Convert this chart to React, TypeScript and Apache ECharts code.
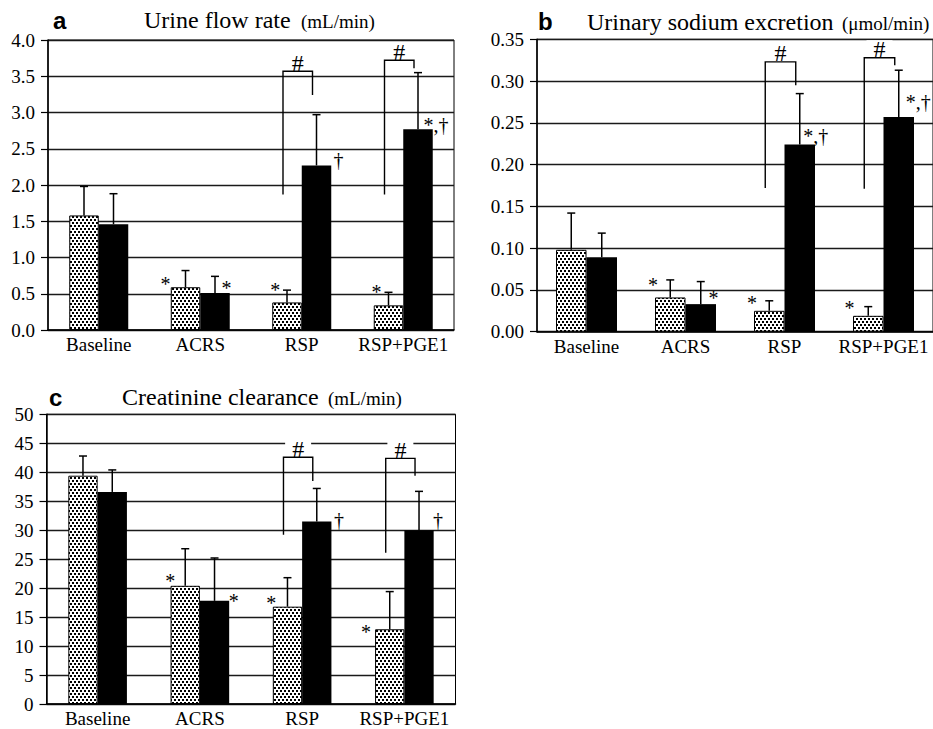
import React, { useEffect, useRef } from "react";
import * as echarts from "echarts";

// ---------- data ----------
const categories = ["Baseline", "ACRS", "RSP", "RSP+PGE1"];

// a: Urine flow rate (mL/min)
const urineDotted = [1.58, 0.59, 0.38, 0.34];
const urineDottedSD = [0.4, 0.23, 0.17, 0.18];
const urineBlack = [1.46, 0.51, 2.27, 2.77];
const urineBlackSD = [0.42, 0.23, 0.7, 0.78];
const urineDottedMarks = ["", "*", "*", "*"];
const urineBlackMarks = ["", "*", "†", "*,†"];
// [category index, left leg low, bracket top, right leg low]
const urineBrackets = [
  [2, 1.87, 3.57, 3.24],
  [3, 1.87, 3.72, 3.61],
];
const urineAxis = { min: 0, max: 4, interval: 0.5, decimals: 1 };

// b: Urinary sodium excretion (µmol/min)
const sodiumDotted = [0.098, 0.041, 0.025, 0.019];
const sodiumDottedSD = [0.044, 0.021, 0.012, 0.011];
const sodiumBlack = [0.089, 0.033, 0.224, 0.257];
const sodiumBlackSD = [0.029, 0.027, 0.061, 0.056];
const sodiumDottedMarks = ["", "*", "*", "*"];
const sodiumBlackMarks = ["", "*", "*,†", "*,†"];
const sodiumBrackets = [
  [2, 0.172, 0.323, 0.295],
  [3, 0.171, 0.328, 0.319],
];
const sodiumAxis = { min: 0, max: 0.35, interval: 0.05, decimals: 2 };

// c: Creatinine clearance (mL/min)
const creatDotted = [39.4, 20.4, 16.8, 12.9];
const creatDottedSD = [3.4, 6.4, 5.0, 6.5];
const creatBlack = [36.6, 17.8, 31.5, 30.0];
const creatBlackSD = [3.8, 7.4, 5.7, 6.7];
const creatDottedMarks = ["", "*", "*", "*"];
const creatBlackMarks = ["", "*", "†", "†"];
const creatBrackets = [
  [2, 29.2, 42.6, 38.5],
  [3, 26.1, 42.4, 39.4],
];
const creatAxis = { min: 0, max: 50, interval: 5, decimals: 0 };

// ---------- layout / style ----------
const SERIF = "Liberation Serif, serif";
const SANS = "Liberation Sans, sans-serif";

const gridBoxes = [
  { left: 48, top: 40, width: 406, height: 290 },
  { left: 537, top: 39.3, width: 408, height: 292.4 },
  { left: 46.5, top: 414.3, width: 409, height: 289.7 },
];
const barWidths = [29.5, 30.5, 29.3];
// offsets of annotation glyph centres relative to bar top corner (dotted: top-left, black: top-right)
const markOffsets = [
  {
    dotted: [[0, 0], [-5.3, -5.5], [3, -15.2], [2.7, -15.4]],
    black: [[0, 0], [-3.3, -8], [7.3, -5.4], [-4.3, -6.5]],
  },
  {
    dotted: [[0, 0], [-2, -14.7], [-2, -10.8], [-3.4, -10.8]],
    black: [[0, 0], [-2.4, -9.1], [-6.7, -11.3], [-3.3, -17]],
  },
  {
    dotted: [[0, 0], [-0.3, -7.6], [-1.6, -6], [-9, 0.7]],
    black: [[0, 0], [4.6, -2.6], [7.6, -1.6], [4.4, -10.3]],
  },
];
const LEG_SHIFT = -4;

function makeDots(): HTMLCanvasElement {
  const c = document.createElement("canvas");
  c.width = 8;
  c.height = 6;
  const ctx = c.getContext("2d")!;
  ctx.fillStyle = "#ffffff";
  ctx.fillRect(0, 0, 8, 6);
  ctx.fillStyle = "#000000";
  ctx.fillRect(0, 0, 2, 2);
  ctx.fillRect(4, 0, 2, 2);
  ctx.fillRect(2, 3, 2, 2);
  ctx.fillRect(6, 3, 2, 2);
  return c;
}

export default function App() {
  const ref = useRef<HTMLDivElement>(null);

  useEffect(() => {
    if (!ref.current) return;
    document.body.style.margin = "0";
    const chart = echarts.init(ref.current, null, { renderer: "svg" });
    const dots = makeDots();

    const panels = [
      {
        dotted: urineDotted, dottedSD: urineDottedSD, black: urineBlack, blackSD: urineBlackSD,
        dMarks: urineDottedMarks, bMarks: urineBlackMarks, brackets: urineBrackets, axis: urineAxis,
      },
      {
        dotted: sodiumDotted, dottedSD: sodiumDottedSD, black: sodiumBlack, blackSD: sodiumBlackSD,
        dMarks: sodiumDottedMarks, bMarks: sodiumBlackMarks, brackets: sodiumBrackets, axis: sodiumAxis,
      },
      {
        dotted: creatDotted, dottedSD: creatDottedSD, black: creatBlack, blackSD: creatBlackSD,
        dMarks: creatDottedMarks, bMarks: creatBlackMarks, brackets: creatBrackets, axis: creatAxis,
      },
    ];

    const grid: any[] = [];
    const xAxis: any[] = [];
    const yAxis: any[] = [];
    const series: any[] = [];

    const labelStyle = { color: "#000", fontFamily: SERIF, fontSize: 19, fontWeight: "normal" };

    panels.forEach((p, pi) => {
      const bw = barWidths[pi];
      grid.push({ ...gridBoxes[pi], show: true, borderColor: "#000", borderWidth: 1, containLabel: false });
      xAxis.push({
        type: "category",
        gridIndex: pi,
        data: categories,
        axisTick: { show: false },
        axisLine: { lineStyle: { color: "#000", width: 1.5 } },
        axisLabel: { ...labelStyle, margin: 5, interval: 0 },
        splitLine: { show: false },
      });
      yAxis.push({
        type: "value",
        gridIndex: pi,
        min: p.axis.min,
        max: p.axis.max,
        interval: p.axis.interval,
        axisLine: { show: true, lineStyle: { color: "#000", width: 1.5 } },
        axisTick: { show: true, length: 7, lineStyle: { color: "#000", width: 1.2 } },
        axisLabel: {
          ...labelStyle,
          margin: 13,
          formatter: (v: number) => v.toFixed(p.axis.decimals),
        },
        splitLine: { show: true, lineStyle: { color: "#1a1a1a", width: 1.4 } },
      });

      series.push({
        type: "bar",
        xAxisIndex: pi,
        yAxisIndex: pi,
        data: p.dotted,
        barWidth: bw,
        barGap: "0%",
        itemStyle: { color: { image: dots, repeat: "repeat" }, borderColor: "#000", borderWidth: 1 },
        z: 2,
      });
      series.push({
        type: "bar",
        xAxisIndex: pi,
        yAxisIndex: pi,
        data: p.black,
        barWidth: bw,
        barGap: "0%",
        itemStyle: { color: "#000" },
        z: 2,
      });

      // error bars
      const errRows: number[][] = [];
      p.dotted.forEach((m, i) => errRows.push([i, m, p.dottedSD[i], -1]));
      p.black.forEach((m, i) => errRows.push([i, m, p.blackSD[i], 1]));
      series.push({
        type: "custom",
        xAxisIndex: pi,
        yAxisIndex: pi,
        data: errRows,
        z: 4,
        renderItem: (_params: any, api: any) => {
          const i = api.value(0);
          const m = api.value(1);
          const s = api.value(2);
          const side = api.value(3);
          const base = api.coord([i, m]);
          const top = api.coord([i, m + s]);
          const x = base[0] + (side * bw) / 2;
          const st = { stroke: "#000", lineWidth: 1.5 };
          return {
            type: "group",
            children: [
              { type: "line", shape: { x1: x, y1: base[1], x2: x, y2: top[1] }, style: st },
              { type: "line", shape: { x1: x - 4, y1: top[1], x2: x + 4, y2: top[1] }, style: st },
            ],
          };
        },
      });

      // significance marks
      const markRows: { i: number; v: number; side: number; text: string; dx: number; dy: number }[] = [];
      p.dMarks.forEach((t, i) => {
        if (t) markRows.push({ i, v: p.dotted[i], side: -1, text: t, dx: markOffsets[pi].dotted[i][0], dy: markOffsets[pi].dotted[i][1] });
      });
      p.bMarks.forEach((t, i) => {
        if (t) markRows.push({ i, v: p.black[i], side: 1, text: t, dx: markOffsets[pi].black[i][0], dy: markOffsets[pi].black[i][1] });
      });
      series.push({
        type: "custom",
        xAxisIndex: pi,
        yAxisIndex: pi,
        data: markRows.map((r) => [r.i, r.v]),
        z: 5,
        renderItem: (params: any, api: any) => {
          const r = markRows[params.dataIndex];
          const c = api.coord([api.value(0), api.value(1)]);
          const ax = c[0] + r.side * bw;
          const multi = r.text.length > 1;
          const star = r.text[0] === "*";
          return {
            type: "text",
            x: ax + r.dx - (multi ? 5 : 0),
            y: c[1] + r.dy + (star ? 2.5 : 0),
            style: {
              text: r.text,
              fontSize: 20,
              fontFamily: SERIF,
              fill: "#000",
              align: multi ? "left" : "center",
              verticalAlign: "middle",
            },
          };
        },
      });

      // brackets with '#'
      series.push({
        type: "custom",
        xAxisIndex: pi,
        yAxisIndex: pi,
        data: p.brackets,
        z: 5,
        renderItem: (_params: any, api: any) => {
          const i = api.value(0);
          const low = api.value(1);
          const top = api.value(2);
          const rlow = api.value(3);
          const ct = api.coord([i, top]);
          const xl = ct[0] - bw / 2 + LEG_SHIFT;
          const xr = ct[0] + bw / 2 + LEG_SHIFT;
          const yl = api.coord([i, low])[1];
          const yr = api.coord([i, rlow])[1];
          return {
            type: "group",
            children: [
              {
                type: "text",
                x: (xl + xr) / 2,
                y: ct[1] - 8.5,
                style: {
                  text: "#",
                  fontSize: 24,
                  fontFamily: SERIF,
                  fill: "#000",
                  align: "center",
                  verticalAlign: "middle",
                  backgroundColor: "#fff",
                  padding: [0, 7],
                  lineHeight: 18,
                },
              },
              {
                type: "polyline",
                shape: { points: [[xl, yl], [xl, ct[1]], [xr, ct[1]], [xr, yr]] },
                style: { stroke: "#000", lineWidth: 1.4, fill: "none" },
              },
            ],
          };
        },
      });
    });

    const titleText = (x: number, y: number, text: string, size: number, family: string, weight = "normal") => ({
      type: "text",
      x,
      y,
      style: { text, fontSize: size, fontFamily: family, fontWeight: weight, fill: "#000", align: "left", verticalAlign: "middle" },
    });

    chart.setOption({
      animation: false,
      backgroundColor: "#fff",
      textStyle: { fontFamily: SERIF, color: "#000" },
      grid,
      xAxis,
      yAxis,
      series,
      graphic: [
        titleText(53, 20, "a", 24, SANS, "bold"),
        titleText(144, 20, "Urine flow rate", 24, SERIF),
        titleText(301, 21.5, "(mL/min)", 19, SERIF),
        titleText(538, 21, "b", 24, SANS, "bold"),
        titleText(587, 22, "Urinary sodium excretion", 24, SERIF),
        titleText(842, 23.5, "(μmol/min)", 19, SERIF),
        titleText(49, 397, "c", 24, SANS, "bold"),
        titleText(122, 397, "Creatinine clearance", 24, SERIF),
        titleText(328, 398.5, "(mL/min)", 19, SERIF),
      ],
    });

    return () => chart.dispose();
  }, []);

  return <div ref={ref} style={{ position: "absolute", left: 0, top: 0, width: 933, height: 729 }} />;
}
